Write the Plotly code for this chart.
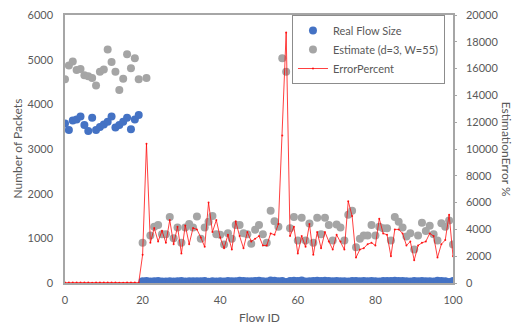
import plotly.graph_objects as go

flow_id = list(range(0, 101))

real_flow_size = [
    3573, 3427, 3638, 3660, 3725, 3536, 3405, 3697, 3427, 3492,
    3551, 3610, 3725, 3479, 3536, 3610, 3697, 3442, 3660, 3763,
    41, 44, 34, 38, 42, 33, 36, 37, 34, 40,
    42, 36, 38, 40, 38, 37, 46, 29, 41, 32,
    41, 36, 43, 39, 38, 48, 44, 37, 38, 45,
    50, 38, 33, 57, 50, 37, 42, 25, 45, 50,
    43, 55, 36, 39, 43, 50, 42, 50, 42, 38,
    47, 40, 38, 36, 46, 42, 40, 43, 38, 44,
    39, 33, 42, 43, 45, 48, 44, 44, 38, 36,
    44, 39, 45, 38, 41, 31, 48, 46, 39, 23,
    43,
]

estimate = [
    4560, 4870, 4960, 4770, 4790, 4650, 4630, 4590, 4420, 4730,
    4780, 5230, 4950, 4730, 4320, 4570, 5120, 4810, 5030, 4560,
    900, 4590, 1065, 1260, 1300, 1090, 1090, 1480, 1000, 1240,
    900, 1240, 1320, 1240, 1490, 990, 1240, 1370, 1500, 1090,
    1080, 860, 1115, 990, 1300, 1300, 1115, 1090, 880, 1190,
    1300, 1090, 900, 1620, 1380, 1260, 5030, 4730, 1225, 1480,
    950, 1460, 950, 1330, 900, 1460, 1090, 1460, 1300, 950,
    1310, 1240, 950, 1530, 1620, 800, 990, 1065, 1065, 1300,
    1065, 1260, 1225, 1225, 950, 1480, 1370, 1240, 1040, 1115,
    750, 1065, 1350, 1165, 1280, 1090, 950, 1340, 1260, 1400,
    860,
]

error_percent = [
    28, 42, 36, 30, 29, 32, 36, 24, 29, 35,
    35, 45, 33, 36, 22, 27, 38, 40, 37, 21,
    2100, 10400, 3000, 4100, 3100, 3900, 3000, 4700, 2900, 4200,
    2200, 4300, 2900, 4100, 4000, 3400, 2700, 6000, 3800, 4700,
    3400, 2600, 3600, 2500, 4600, 3500, 2600, 3800, 3100, 3300,
    3500, 2800, 2800, 3700, 3600, 4400, 11000, 18700, 3500, 4200,
    2200, 3500, 2700, 4400, 2100, 3800, 2600, 3800, 3100, 2500,
    3600, 3100, 2500, 6100, 5000, 1900, 2500, 2600, 2900, 3000,
    2800, 4800, 3700, 3600, 2000, 4000, 4000, 3700, 2800, 3100,
    1700, 2800, 3000, 3100, 3700, 3500, 1900, 2900, 3200, 5100,
    2000,
]

x_ticks = [0, 20, 40, 60, 80, 100]
left_ticks = [0, 1000, 2000, 3000, 4000, 5000, 6000]
right_ticks = list(range(0, 20001, 2000))

FONT = "Lato"
TXT = "#595959"
AXC = "#A6A6A6"

fig = go.Figure()
fig.add_trace(go.Scatter(
    x=flow_id, y=real_flow_size, mode="markers", name="Real Flow Size",
    marker=dict(color="#4472C4", size=8),
))
fig.add_trace(go.Scatter(
    x=flow_id, y=estimate, mode="markers", name="Estimate (d=3, W=55)",
    marker=dict(color="#A5A5A5", size=8),
))
fig.add_trace(go.Scatter(
    x=flow_id, y=error_percent, mode="lines+markers", name="ErrorPercent",
    yaxis="y2",
    line=dict(color="rgba(255,0,0,0.75)", width=1),
    marker=dict(color="rgba(255,0,0,0.85)", size=2),
))

fig.update_layout(
    width=513, height=329,
    margin=dict(l=64.5, r=60.3, t=8, b=46),
    paper_bgcolor="white", plot_bgcolor="white",
    font=dict(family=FONT, size=11, color=TXT),
    showlegend=True,
    legend=dict(
        x=0.585, y=1.0, xanchor="left", yanchor="top",
        bgcolor="white", bordercolor="#8C8C8C", borderwidth=1,
        font=dict(family=FONT, size=11, color=TXT),
        tracegroupgap=0, itemwidth=30,
    ),
    xaxis=dict(
        range=[0, 100], tickvals=x_ticks, showgrid=False, zeroline=False,
        showline=True, linecolor=AXC, linewidth=1.5, mirror=True,
        ticks="", ticklabelstandoff=6, tickfont=dict(size=11, color=TXT),
    ),
    yaxis=dict(
        range=[0, 6000], tickvals=left_ticks, showgrid=False, zeroline=False,
        showline=True, linecolor=AXC, linewidth=1.5,
        ticks="", ticklabelstandoff=8, tickfont=dict(size=11, color=TXT),
    ),
    yaxis2=dict(
        range=[0, 20000], tickvals=right_ticks,
        ticktext=[str(v) for v in right_ticks],
        overlaying="y", side="right",
        showgrid=False, zeroline=False, showline=True, linecolor=AXC,
        linewidth=1.5, ticks="outside", ticklen=2, tickcolor=AXC,
        ticklabelstandoff=7, tickfont=dict(size=11, color=TXT),
    ),
    annotations=[
        dict(text="Number of Packets", xref="paper", yref="paper",
             x=-0.125, y=0.5, xanchor="center", yanchor="middle",
             textangle=-90, showarrow=False, font=dict(size=12, color=TXT)),
        dict(text="EstimationError %", xref="paper", yref="paper",
             x=1.14, y=0.5, xanchor="center", yanchor="middle",
             textangle=90, showarrow=False, font=dict(size=12, color=TXT)),
        dict(text="Flow ID", xref="paper", yref="paper",
             x=0.5, y=-0.127, xanchor="center", yanchor="middle",
             showarrow=False, font=dict(size=12, color=TXT)),
    ],
)

fig.write_html("out.html")
